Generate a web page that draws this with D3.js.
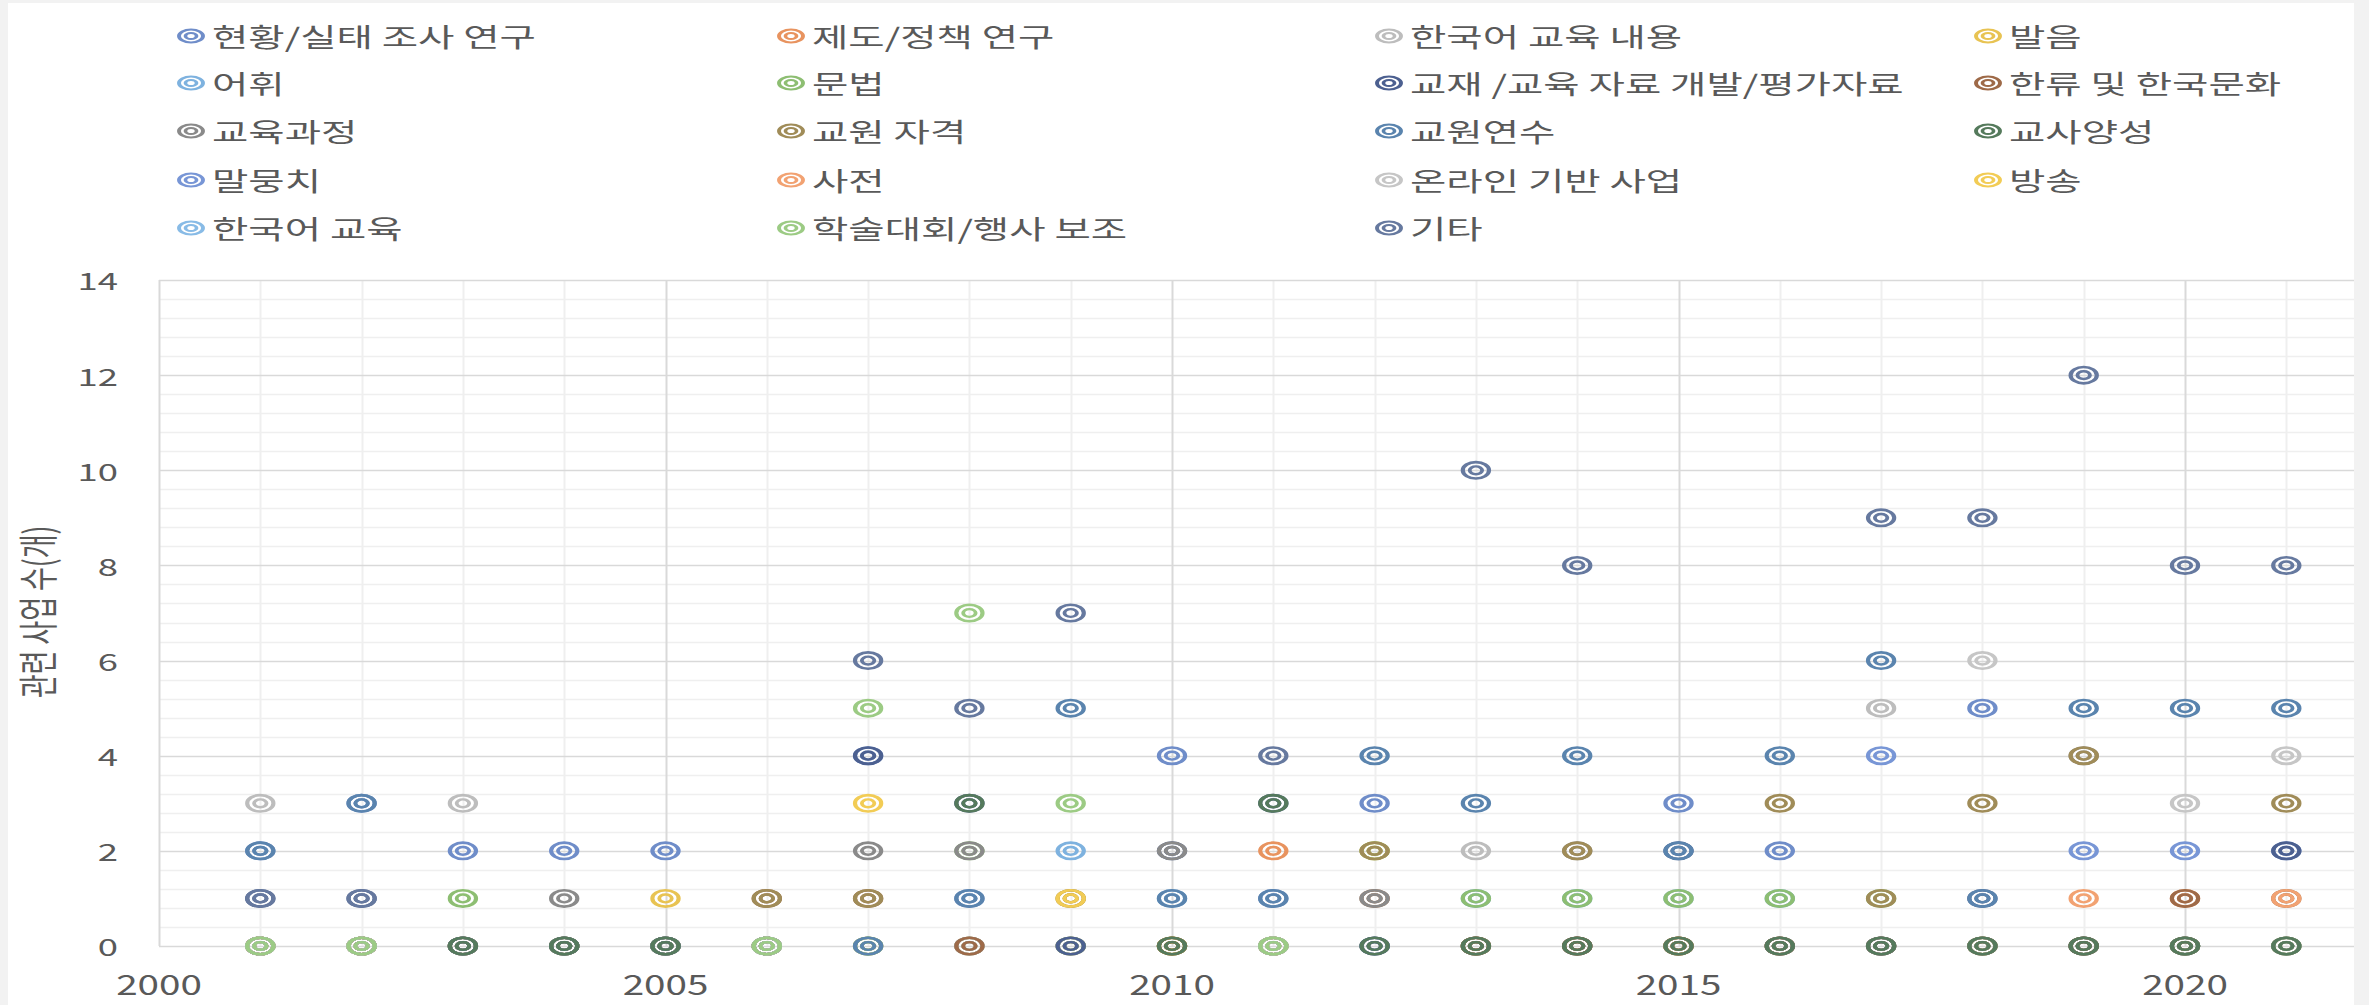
<!DOCTYPE html>
<html><head><meta charset="utf-8">
<script src="https://cdn.jsdelivr.net/npm/d3@7"></script>
<style>body{margin:0;background:#f2f2f2;overflow:hidden}svg{display:block}</style>
</head><body>
<svg id="c" width="2369" height="1005"></svg>
<script>
// ---------------- DATA ----------------
const years = [2001,2002,2003,2004,2005,2006,2007,2008,2009,2010,2011,2012,2013,2014,2015,2016,2017,2018,2019,2020,2021];
const seriesNames = ["현황/실태 조사 연구","제도/정책 연구","한국어 교육 내용","발음",
  "어휘","문법","교재 /교육 자료 개발/평가자료","한류 및 한국문화",
  "교육과정","교원 자격","교원연수","교사양성",
  "말뭉치","사전","온라인 기반 사업","방송",
  "한국어 교육","학술대회/행사 보조","기타"];
const seriesColors = ["#6F8DC9","#E8935F","#BDBDBD","#E8C352",
  "#7EB2DF","#8DBE72","#4C6090","#9E6A48",
  "#8A8A8A","#A08C58","#5A84AE","#557A5C",
  "#7896D6","#F2A272","#C6C6C6","#F2CC55",
  "#88BBE6","#9CCB84","#66799F"];
const n = null;
const s01 = [2,3,2,2,2,0,4,1,0,4,1,3,0,0,3,2,0,5,0,0,2];
const s02 = [0,0,0,0,0,0,0,0,0,0,2,0,0,0,0,0,0,0,0,1,0];
const s03 = [3,0,3,0,0,0,0,0,0,0,0,0,2,0,0,0,5,0,0,0,0];
const s04 = [0,0,0,0,1,0,0,0,1,0,0,2,0,0,0,0,0,0,0,0,0];
const s05 = [0,0,0,0,0,0,0,0,2,1,0,0,1,1,1,1,0,0,0,0,0];
const s06 = [0,0,1,0,0,0,0,2,0,0,0,2,1,1,1,1,1,0,0,0,0];
const s07 = [1,1,0,0,0,0,4,3,0,2,3,0,0,0,2,0,0,1,0,0,2];
const s08 = [0,0,0,0,0,1,1,0,n,0,0,1,0,0,0,0,0,0,0,1,1];
const s09 = [0,0,0,1,0,0,2,2,n,2,0,1,0,2,0,0,0,0,4,0,0];
const s10 = [0,0,0,0,0,1,1,n,1,0,0,2,0,2,0,3,1,3,4,0,3];
const s11 = [2,3,0,0,0,0,0,1,5,1,1,4,3,4,2,4,6,1,5,5,5];
const s12 = [0,0,0,0,0,0,n,3,n,0,3,0,0,0,0,0,0,0,0,0,0];
const s13 = [0,0,n,n,n,0,n,n,n,n,0,n,n,n,n,n,4,n,2,2,n];
const s14 = [0,0,n,n,n,0,n,n,n,n,0,n,n,n,n,n,n,n,1,n,1];
const s15 = [0,0,n,n,n,0,n,n,n,n,0,n,n,n,n,n,n,6,n,3,4];
const s16 = [0,0,n,n,n,0,3,n,1,n,0,n,n,n,n,n,n,n,n,n,n];
const s17 = [0,0,n,n,n,0,n,n,n,n,0,n,n,n,n,n,n,n,n,n,n];
const s18 = [0,0,n,n,n,0,5,7,3,n,0,n,n,n,n,n,n,n,n,n,n];
const s19 = [1,1,n,n,n,n,6,5,7,n,4,n,10,8,n,n,9,9,12,8,8];
const xTickLabels = [2000,2005,2010,2015,2020];
const yTickLabels = [0,2,4,6,8,10,12,14];
const yTitle = "관련 사업 수(개)";

const seriesValues = [s01,s02,s03,s04,s05,s06,s07,s08,s09,s10,s11,s12,s13,s14,s15,s16,s17,s18,s19];
const series = seriesNames.map((name,i)=>({name, color:seriesColors[i],
  points: years.map((yr,j)=>({x:yr, y:seriesValues[i][j]})).filter(p=>p.y!==null)}));

// ---------------- LAYOUT ----------------
const svg = d3.select('#c');
const FONT = "'Noto Sans CJK KR','Noto Sans',sans-serif";
const TXT = "#595959";
const SX = 1.52; // horizontal stretch of the original picture

svg.append('rect').attr('x',8).attr('y',3).attr('width',2346).attr('height',1002).attr('fill','#fff');

const L=159, R=2354, T=280, B=946;
const x = d3.scaleLinear().domain([2000, 2000 + (R-L)/101.3]).range([L,R]);
const y = d3.scaleLinear().domain([0,14]).range([B,T]);

const grid = svg.append('g');
const yMinor = d3.range(0, 14.001, 0.4).filter(v => Math.abs(v/2 - Math.round(v/2)) > 1e-6);
grid.selectAll('.hm').data(yMinor).join('line')
  .attr('x1',L).attr('x2',R).attr('y1',d=>Math.round(y(d))+0.5).attr('y2',d=>Math.round(y(d))+0.5)
  .attr('stroke','#efefef').attr('stroke-width',1.5);
const xMinor = d3.range(2001, 2022).filter(v=>v%5!==0);
grid.selectAll('.vm').data(xMinor).join('line')
  .attr('y1',T).attr('y2',B).attr('x1',d=>Math.round(x(d))+0.5).attr('x2',d=>Math.round(x(d))+0.5)
  .attr('stroke','#efefef').attr('stroke-width',2);
grid.selectAll('.hM').data(yTickLabels).join('line')
  .attr('x1',L).attr('x2',R).attr('y1',d=>Math.round(y(d))+0.5).attr('y2',d=>Math.round(y(d))+0.5)
  .attr('stroke','#d9d9d9').attr('stroke-width',1.5);
grid.selectAll('.vM').data(xTickLabels).join('line')
  .attr('y1',T).attr('y2',B).attr('x1',d=>Math.round(x(d))+0.5).attr('x2',d=>Math.round(x(d))+0.5)
  .attr('stroke','#d9d9d9').attr('stroke-width',2);

svg.append('g').selectAll('text').data(yTickLabels).join('text')
  .attr('transform',d=>`translate(118,${y(d)}) scale(${SX},1)`)
  .attr('text-anchor','end').attr('dominant-baseline','central')
  .attr('font-family',FONT).attr('font-size',24).attr('fill',TXT).text(d=>d);
svg.append('g').selectAll('text').data(xTickLabels).join('text')
  .attr('transform',d=>`translate(${x(d)},995) scale(1.38,1)`)
  .attr('text-anchor','middle')
  .attr('font-family',FONT).attr('font-size',28).attr('fill',TXT).text(d=>d);
svg.append('text')
  .attr('transform',`translate(36,612) scale(${SX},1) rotate(-90)`)
  .attr('text-anchor','middle').attr('dominant-baseline','central')
  .attr('font-family',FONT).attr('font-size',26).attr('fill',TXT).text(yTitle);

function marker(sel, color, r1, r2, sw1, sw2){
  sel.append('circle').attr('r',r1).attr('fill','none').attr('stroke',color).attr('stroke-width',sw1);
  sel.append('circle').attr('r',r2).attr('fill','none').attr('stroke',color).attr('stroke-width',sw2);
}
const plot = svg.append('g');
series.forEach(s=>{
  const gs = plot.append('g');
  gs.selectAll('g').data(s.points).join('g')
    .attr('transform',d=>`translate(${x(d.x)},${y(d.y)}) scale(1.6,1)`)
    .each(function(){ marker(d3.select(this), s.color, 8.2, 3.9, 2.6, 2.4); });
});

const colX = [191, 791, 1389, 1988];
const rowY = [36, 83, 131, 180, 228];
const leg = svg.append('g');
series.forEach((s,i)=>{
  const cx = colX[i%4], cy = rowY[Math.floor(i/4)];
  const m = leg.append('g').attr('transform',`translate(${cx},${cy}) scale(1.85,1)`);
  marker(m, s.color, 6.5, 3.0, 2.1, 2.0);
  leg.append('text').attr('transform',`translate(${cx+21},${cy}) scale(${SX},1)`)
    .attr('dominant-baseline','central')
    .attr('font-family',FONT).attr('font-size',26).attr('fill',TXT).text(s.name);
});
</script>
</body></html>
